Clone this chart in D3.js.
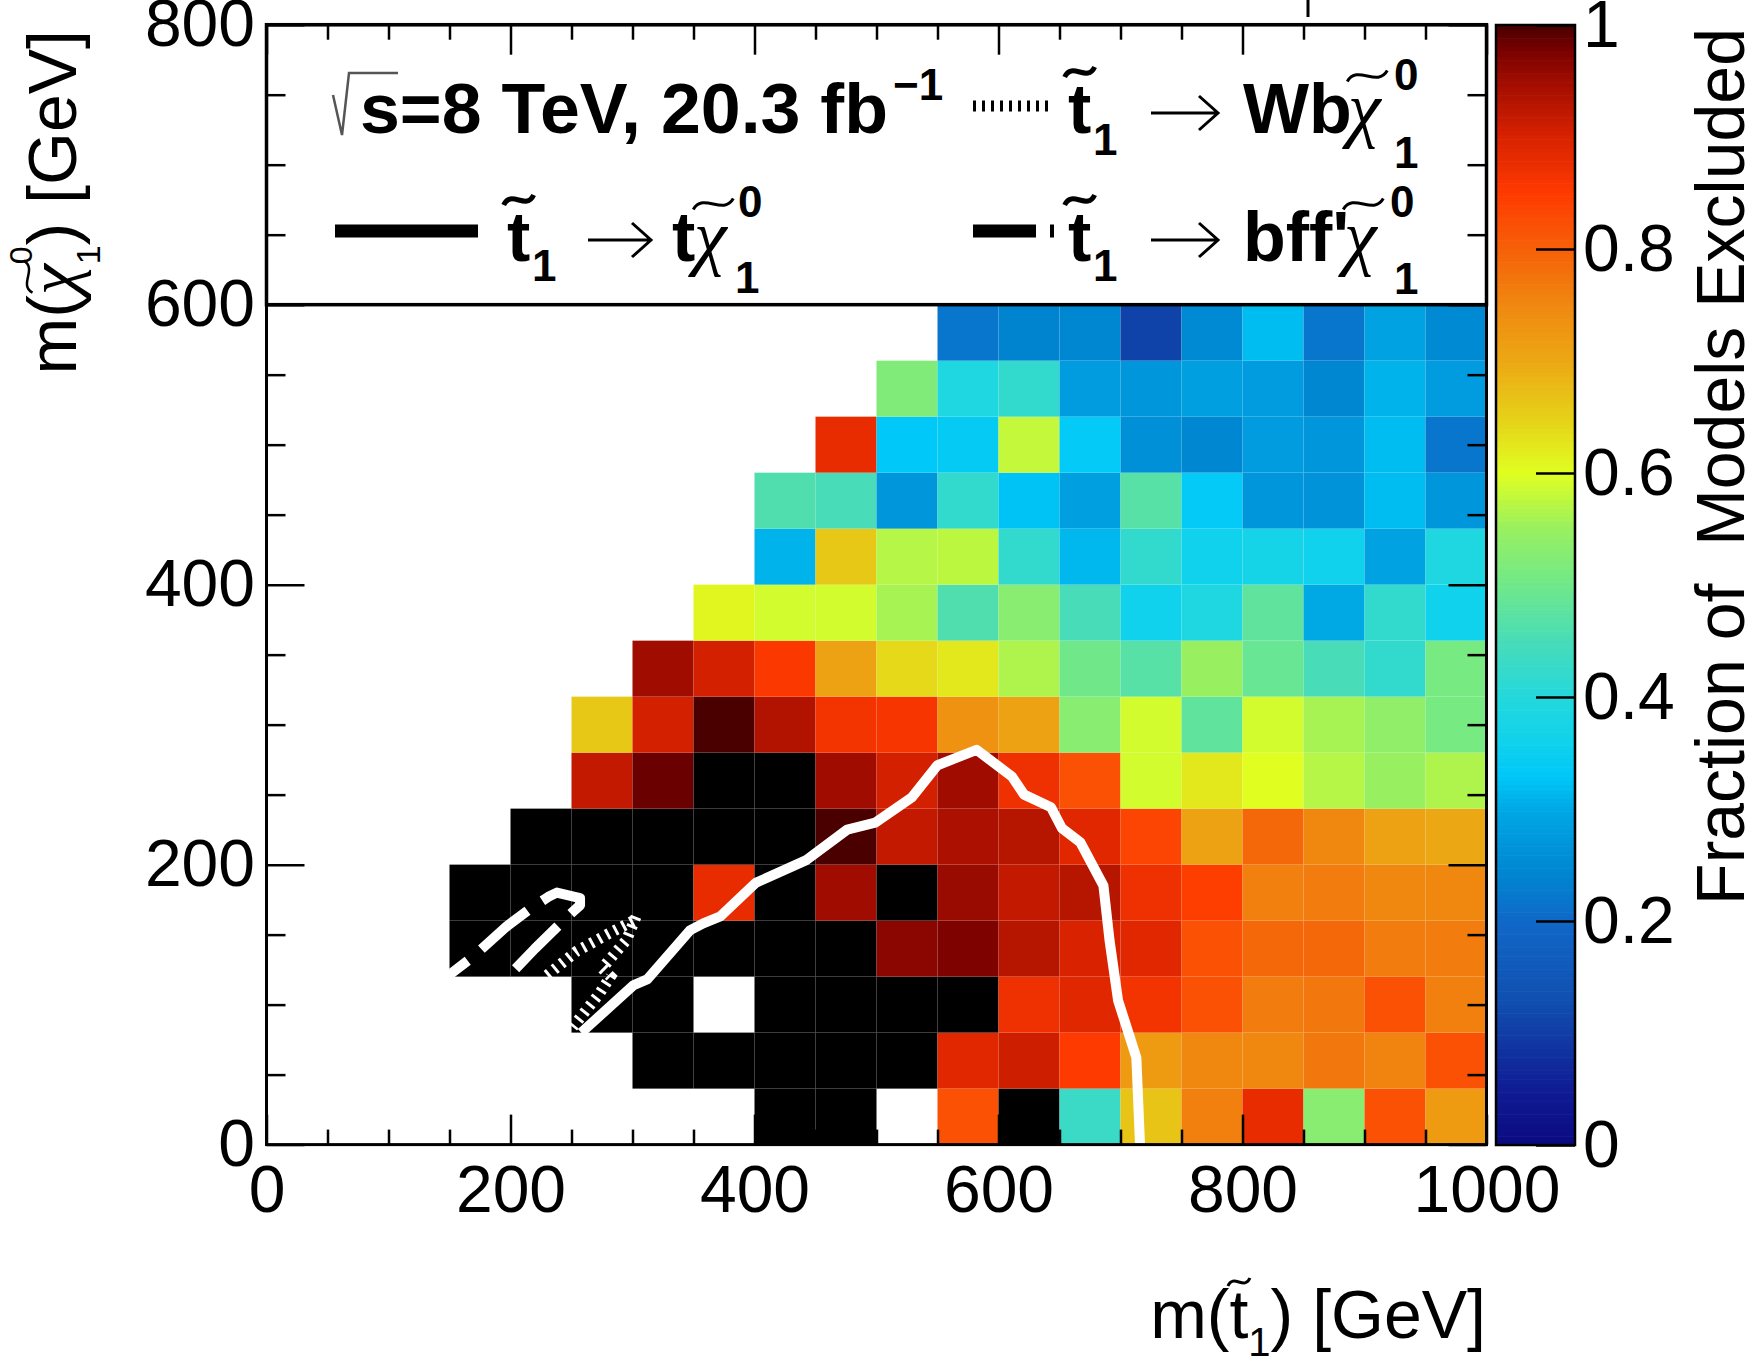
<!DOCTYPE html>
<html>
<head>
<meta charset="utf-8">
<script src="https://d3js.org/d3.v7.min.js"></script>
<style>
    body { margin: 0; background: #fff; }
    text { font-family: "Liberation Sans", Arial, sans-serif; fill: #000; }
</style>
</head>
<body>
<div id="chart"></div>
<script>
var width = 1763;
var height = 1363;

// bin lower edges, GeV
var stopBins = [150, 200, 250, 300, 350, 400, 450, 500, 550, 600, 650, 700, 750, 800, 850, 900, 950];
var lspBins = [0, 40, 80, 120, 160, 200, 240, 280, 320, 360, 400, 440, 480, 520, 560];
var stopBinWidth = 50;
var lspBinWidth = 40;

// fraction of models excluded, one array per LSP bin (null = no models)
var N = null;
var frac000 = [N, N, N, N, N, 1, 1, N, 0.82, 1, 0.43, 0.665, 0.76, 0.88, 0.53, 0.82, 0.72];
var frac040 = [N, N, N, 1, 1, 1, 1, 1, 0.89, 0.91, 0.85, 0.72, 0.75, 0.75, 0.77, 0.755, 0.82];
var frac080 = [N, N, 1, 1, N, 1, 1, 1, 1, 0.87, 0.89, 0.865, 0.82, 0.765, 0.77, 0.82, 0.76];
var frac120 = [1, 1, 1, 1, 1, 1, 1, 0.965, 0.975, 0.93, 0.90, 0.89, 0.82, 0.79, 0.79, 0.765, 0.765];
var frac160 = [1, 1, 1, 1, 0.88, 1, 0.95, 1, 0.955, 0.92, 0.93, 0.87, 0.845, 0.76, 0.765, 0.75, 0.75];
var frac200 = [N, 1, 1, 1, 1, 1, 0.998, 0.92, 0.94, 0.93, 0.89, 0.835, 0.71, 0.79, 0.75, 0.71, 0.70];
var frac240 = [N, N, 0.92, 0.985, 1, 1, 0.95, 0.905, 0.95, 0.87, 0.82, 0.59, 0.625, 0.60, 0.57, 0.55, 0.565];
var frac280 = [N, N, 0.66, 0.905, 0.998, 0.935, 0.865, 0.86, 0.735, 0.71, 0.53, 0.59, 0.48, 0.59, 0.56, 0.54, 0.51];
var frac320 = [N, N, N, 0.95, 0.905, 0.855, 0.71, 0.64, 0.625, 0.565, 0.50, 0.47, 0.55, 0.49, 0.45, 0.42, 0.51];
var frac360 = [N, N, N, N, 0.61, 0.59, 0.59, 0.56, 0.46, 0.53, 0.45, 0.36, 0.39, 0.48, 0.30, 0.42, 0.36];
var frac400 = [N, N, N, N, N, 0.31, 0.66, 0.57, 0.575, 0.42, 0.315, 0.42, 0.36, 0.37, 0.36, 0.29, 0.39];
var frac440 = [N, N, N, N, N, 0.46, 0.45, 0.27, 0.42, 0.325, 0.285, 0.47, 0.335, 0.27, 0.265, 0.32, 0.27];
var frac480 = [N, N, N, N, N, N, 0.88, 0.33, 0.34, 0.58, 0.335, 0.26, 0.245, 0.28, 0.27, 0.32, 0.22];
var frac520 = [N, N, N, N, N, N, N, 0.52, 0.39, 0.42, 0.28, 0.27, 0.285, 0.28, 0.245, 0.31, 0.28];
var frac560 = [N, N, N, N, N, N, N, N, 0.22, 0.24, 0.245, 0.11, 0.25, 0.32, 0.22, 0.29, 0.25];
var fracRows = [frac000, frac040, frac080, frac120, frac160, frac200, frac240, frac280,
    frac320, frac360, frac400, frac440, frac480, frac520, frac560];

// exclusion contours (stop mass, LSP mass)
var tchiStop = [258, 301, 312, 347, 358, 372, 401, 442, 476, 499, 529, 550, 582, 611, 621, 643, 652, 667, 686, 691, 698, 705, 713, 716];
var tchiLsp = [80, 114, 118, 153, 158, 163, 187, 203, 225, 230, 248, 271, 282, 263, 250, 241, 226, 216, 185, 146, 103, 84, 62, 0];
var bffStop = [148, 169, 197, 217, 231, 238, 257, 257, 247, 220, 198];
var bffLsp = [120, 134, 156, 169, 177, 180, 176, 171, 163, 140, 120];
var wbStop = [230, 254, 279, 301, 303, 295, 283, 275, 282, 273, 262, 251];
var wbLsp = [121, 138, 150, 160, 163, 146, 134, 126, 120, 108, 96, 84];

// ticks
var xMajorTicks = [0, 200, 400, 600, 800, 1000];
var xMinorTicks = [50, 100, 150, 250, 300, 350, 450, 500, 550, 650, 700, 750, 850, 900, 950];
var yMajorTicks = [0, 200, 400, 600, 800];
var yMinorTicks = [50, 100, 150, 250, 300, 350, 450, 500, 550, 650, 700, 750];
var zTicks = [0, 0.2, 0.4, 0.6, 0.8, 1];

// colour palette of the z axis
var paletteStops = [0, 0.05, 0.13, 0.2, 0.24, 0.27, 0.3, 0.33, 0.36, 0.4, 0.45, 0.5, 0.55, 0.6, 0.65, 0.7, 0.75, 0.8, 0.85, 0.9, 0.95, 0.98, 1];
var paletteColors = ["#0a0a80", "#101c94", "#1050b0", "#1068c8", "#0084d0", "#0096dc", "#00a8e4", "#00c8f8",
    "#10d2ec", "#24d8dc", "#48dcb8", "#70e88a", "#98f060", "#e0ff20", "#e6d018", "#eca814",
    "#f08810", "#f66008", "#ff3a00", "#d82200", "#a00c00", "#760000", "#460000"];


function tildePath(cx, cy, w, h) {
    return "M" + (cx - w / 2) + "," + (cy + h / 2) +
        " C" + (cx - w / 4) + "," + (cy - h * 1.1) + " " + (cx + w / 4) + "," + (cy + h * 1.1) +
        " " + (cx + w / 2) + "," + (cy - h / 2);
}

// lays text pieces out left to right, measuring each one
function richText(g, x0, y0, parts, anchor) {
    var grp = g.append("g");
    var cx = 0;
    parts.forEach(function (p) {
        if (p.x !== undefined) {
            cx = p.x;
        }
        var t = grp.append("text")
                .attr("x", cx)
                .attr("y", p.dy || 0)
                .style("font-size", (p.size || 68) + "px")
                .style("font-weight", p.bold ? "bold" : "normal")
                .style("font-style", p.italic ? "italic" : "normal")
                .style("font-family", p.serif ? "'Liberation Serif', serif" : "'Liberation Sans', Arial, sans-serif")
                .style("white-space", "pre")
                .text(p.t);
        if (p.len) {
            t.attr("textLength", p.len).attr("lengthAdjust", "spacingAndGlyphs");
        }
        var w = p.len || t.node().getComputedTextLength();
        if (p.tilde) {
            grp.append("path")
                    .attr("d", tildePath(cx + w / 2 + (p.tilde.dx || 0), p.tilde.dy, p.tilde.w, p.tilde.h))
                    .attr("fill", "none")
                    .attr("stroke", "#000")
                    .attr("stroke-width", p.tilde.sw);
        }
        if (!p.stack) {
            cx += w;
        }
    });
    var shift = anchor === "end" ? -cx : 0;
    grp.attr("transform", "translate(" + (x0 + shift) + "," + y0 + ")");
    return grp;
}

function arrow(g, x1, x2, yy) {
    g.append("path")
            .attr("d", "M" + x1 + "," + yy + " H" + x2 + " M" + (x2 - 19) + "," + (yy - 17) +
                    " L" + x2 + "," + yy + " L" + (x2 - 19) + "," + (yy + 17))
            .attr("fill", "none")
            .attr("stroke", "#000")
            .attr("stroke-width", 3);
}

function styleAxis(g, fontSize) {
    g.select(".domain").remove();
    g.selectAll("line").attr("stroke", "#000").attr("stroke-width", 2.5);
    g.selectAll("text")
            .style("font-size", fontSize + "px")
            .style("font-family", "'Liberation Sans', Arial, sans-serif")
            .attr("fill", "#000");
}

function drawChart()
{
    var svg = d3.select("#chart").append("svg")
            .attr("width", width)
            .attr("height", height)
            .style("background", "#fff");

    var x = d3.scaleLinear().domain([0, 1000]).range([266.5, 1486.5]);
    var y = d3.scaleLinear().domain([0, 800]).range([1144.6, 24.7]);
    var z = d3.scaleLinear().domain([0, 1]).range([1145, 25]);
    var palette = d3.scaleLinear().domain(paletteStops).range(paletteColors).clamp(true);
    var cellColor = function (v) {
        return v >= 1 ? "#000000" : palette(v);
    };

    // cells
    var cells = [];
    fracRows.forEach(function (row, i) {
        row.forEach(function (v, j) {
            if (v !== null) {
                cells.push({m: stopBins[j], l: lspBins[i], v: v});
            }
        });
    });

    svg.append("g").selectAll("rect")
            .data(cells)
            .enter().append("rect")
            .attr("x", function (d) { return x(d.m); })
            .attr("y", function (d) { return y(d.l + lspBinWidth); })
            .attr("width", function (d) { return x(d.m + stopBinWidth) - x(d.m); })
            .attr("height", function (d) { return y(d.l) - y(d.l + lspBinWidth); })
            .attr("fill", function (d) { return cellColor(d.v); });

    // contours
    var line = d3.line().x(function (d) { return x(d[0]); }).y(function (d) { return y(d[1]); });

    svg.append("path")
            .attr("d", line(d3.zip(tchiStop, tchiLsp)))
            .attr("fill", "none").attr("stroke", "#fff").attr("stroke-width", 10)
            .attr("stroke-linejoin", "round");
    svg.append("path")
            .attr("d", line(d3.zip(bffStop, bffLsp)))
            .attr("fill", "none").attr("stroke", "#fff").attr("stroke-width", 10)
            .attr("stroke-dasharray", "60,18").attr("stroke-dashoffset", 34)
            .attr("stroke-linejoin", "round");
    svg.append("path")
            .attr("d", line(d3.zip(wbStop, wbLsp)))
            .attr("fill", "none").attr("stroke", "#fff").attr("stroke-width", 11)
            .attr("stroke-dasharray", "3,6");

    // legend box
    svg.append("rect")
            .attr("x", x(0)).attr("y", y(800))
            .attr("width", x(1000) - x(0)).attr("height", y(600) - y(800))
            .attr("fill", "#fff").attr("stroke", "#000").attr("stroke-width", 3.5);

    // axes, ticks inside the frame
    var gx = svg.append("g").attr("transform", "translate(0," + y(0) + ")")
            .call(d3.axisBottom(x).tickValues(xMajorTicks).tickSize(-30).tickPadding(21).tickFormat(d3.format("d")));
    styleAxis(gx, 66);
    styleAxis(svg.append("g").attr("transform", "translate(0," + y(0) + ")")
            .call(d3.axisBottom(x).tickValues(xMinorTicks).tickSize(-15).tickFormat("")), 66);
    styleAxis(svg.append("g").attr("transform", "translate(0," + y(800) + ")")
            .call(d3.axisTop(x).tickValues(xMajorTicks).tickSize(-30).tickFormat("")), 66);
    styleAxis(svg.append("g").attr("transform", "translate(0," + y(800) + ")")
            .call(d3.axisTop(x).tickValues(xMinorTicks).tickSize(-15).tickFormat("")), 66);

    var gy = svg.append("g").attr("transform", "translate(" + x(0) + ",0)")
            .call(d3.axisLeft(y).tickValues(yMajorTicks).tickSize(-38).tickPadding(11.5).tickFormat(d3.format("d")));
    styleAxis(gy, 66);
    styleAxis(svg.append("g").attr("transform", "translate(" + x(0) + ",0)")
            .call(d3.axisLeft(y).tickValues(yMinorTicks).tickSize(-19).tickFormat("")), 66);
    styleAxis(svg.append("g").attr("transform", "translate(" + x(1000) + ",0)")
            .call(d3.axisRight(y).tickValues(yMajorTicks).tickSize(-38).tickFormat("")), 66);
    styleAxis(svg.append("g").attr("transform", "translate(" + x(1000) + ",0)")
            .call(d3.axisRight(y).tickValues(yMinorTicks).tickSize(-19).tickFormat("")), 66);

    svg.append("rect")
            .attr("x", x(0)).attr("y", y(800))
            .attr("width", x(1000) - x(0)).attr("height", y(0) - y(800))
            .attr("fill", "none").attr("stroke", "#000").attr("stroke-width", 3);

    // stray mark above the frame
    svg.append("line").attr("x1", 1308).attr("x2", 1308).attr("y1", 0).attr("y2", 17)
            .attr("stroke", "#000").attr("stroke-width", 3);

    // colour bar
    var cbLeft = 1496;
    var cbRight = 1575;
    var nBands = 255;
    svg.append("g").selectAll("rect")
            .data(d3.range(nBands))
            .enter().append("rect")
            .attr("x", cbLeft)
            .attr("width", cbRight - cbLeft)
            .attr("y", function (i) { return z((i + 1) / nBands); })
            .attr("height", function (i) { return z(i / nBands) - z((i + 1) / nBands) + 0.6; })
            .attr("fill", function (i) { return palette((i + 0.5) / nBands); });
    svg.append("rect")
            .attr("x", cbLeft).attr("y", z(1))
            .attr("width", cbRight - cbLeft).attr("height", z(0) - z(1))
            .attr("fill", "none").attr("stroke", "#000").attr("stroke-width", 2.5);
    var gz = svg.append("g").attr("transform", "translate(" + cbRight + ",0)")
            .call(d3.axisRight(z).tickValues(zTicks).tickSize(-39).tickPadding(8)
                    .tickFormat(function (d) { return String(+d.toFixed(1)); }));
    styleAxis(gz, 66);

    // axis titles
    var yt = svg.append("g").attr("transform", "translate(76,30) rotate(-90)");
    richText(yt, 0, 0, [
        {t: "m(", size: 68},
        {t: "χ", size: 70, serif: true, italic: true, tilde: {dy: -48, w: 32, h: 9, sw: 2.5, dx: 3}},
        {t: "0", size: 32, dy: -44, stack: true},
        {t: "1", size: 34, dy: 24},
        {t: ") [GeV]", size: 68}
    ], "end");

    richText(svg, 1486, 1338, [
        {t: "m(", size: 68},
        {t: "t", size: 68, tilde: {dy: -56, w: 22, h: 8, sw: 3}},
        {t: "1", size: 40, dy: 18},
        {t: ") [GeV]", size: 68}
    ], "end");

    var zt = svg.append("g").attr("transform", "translate(1744,28) rotate(-90)");
    richText(zt, 0, 0, [{t: "Fraction of \u00a0Models Excluded", size: 68}], "end");

    // legend
    svg.append("path")
            .attr("d", "M333,95 L342,135 L349,73 L398,73")
            .attr("fill", "none").attr("stroke", "#555").attr("stroke-width", 2.5);
    var tBig = {w: 30, h: 10, sw: 5, dy: -61};
    var chiTil = {w: 40, h: 11, sw: 3, dx: 3, dy: -57};
    richText(svg, 0, 133, [
        {t: "s=8 TeV, 20.3 fb", x: 360, size: 70, bold: true, len: 528},
        {t: "\u22121", x: 893, size: 44, bold: true, dy: -33},
        {t: "t", x: 1068, size: 70, bold: true, tilde: tBig},
        {t: "1", x: 1093, size: 44, bold: true, dy: 22},
        {t: "Wb", x: 1243, size: 70, bold: true},
        {t: "χ", x: 1348, size: 74, serif: true, italic: true, tilde: chiTil},
        {t: "0", x: 1394, size: 44, bold: true, dy: -43},
        {t: "1", x: 1394, size: 44, bold: true, dy: 35}
    ]);
    richText(svg, 0, 261, [
        {t: "t", x: 507, size: 70, bold: true, tilde: tBig},
        {t: "1", x: 532, size: 44, bold: true, dy: 20},
        {t: "t", x: 672, size: 70, bold: true},
        {t: "χ", x: 694, size: 74, serif: true, italic: true, tilde: chiTil},
        {t: "0", x: 738, size: 44, bold: true, dy: -44},
        {t: "1", x: 735, size: 44, bold: true, dy: 32},
        {t: "t", x: 1068, size: 70, bold: true, tilde: tBig},
        {t: "1", x: 1093, size: 44, bold: true, dy: 20},
        {t: "bff'", x: 1243, size: 70, bold: true},
        {t: "χ", x: 1344, size: 74, serif: true, italic: true, tilde: chiTil},
        {t: "0", x: 1390, size: 44, bold: true, dy: -44},
        {t: "1", x: 1394, size: 44, bold: true, dy: 33}
    ]);
    arrow(svg, 1151, 1218, 113);
    arrow(svg, 588, 651, 240);
    arrow(svg, 1151, 1218, 240);

    // legend line samples
    svg.append("line").attr("x1", 973).attr("x2", 1051).attr("y1", 106).attr("y2", 106)
            .attr("stroke", "#000").attr("stroke-width", 11).attr("stroke-dasharray", "3,6");
    svg.append("line").attr("x1", 335).attr("x2", 478).attr("y1", 231).attr("y2", 231)
            .attr("stroke", "#000").attr("stroke-width", 13);
    svg.append("line").attr("x1", 973).attr("x2", 1054).attr("y1", 231).attr("y2", 231)
            .attr("stroke", "#000").attr("stroke-width", 13).attr("stroke-dasharray", "63,14");
}

drawChart();
</script>
</body>
</html>
